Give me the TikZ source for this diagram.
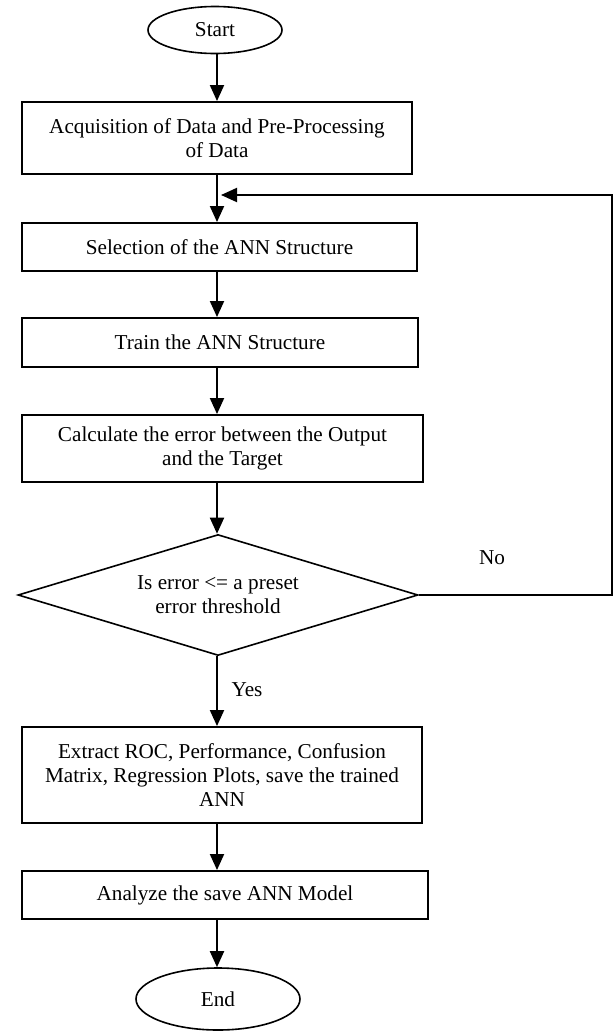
\documentclass[tikz,border=0pt]{standalone}
\usepackage{fontspec}
\setmainfont{Liberation Serif}
\usetikzlibrary{arrows.meta,shapes.geometric}
\begin{document}
\begin{tikzpicture}[x=1pt,y=-1pt,
  every node/.style={font=\fontsize{21.2}{24}\selectfont},
  procbox/.style={draw, rectangle, line width=1.9pt, inner sep=0pt, align=center},
  term/.style={draw, ellipse, line width=1.6pt, inner sep=0pt},
  decbox/.style={draw, diamond, line width=1.6pt, inner sep=0pt, align=center, shape aspect=3.3},
  arr/.style={-{Triangle[length=16pt,width=14pt]}, line width=1.9pt},
  lbl/.style={inner sep=0pt}]
\useasboundingbox (0,0) rectangle (616,1034);
\node[term, minimum width=134pt, minimum height=47pt] (start) at (215,30) {Start};
\node[procbox, minimum width=390pt, minimum height=72pt] (b1) at (217,138) {Acquisition of Data and Pre-Processing\\of Data};
\node[procbox, minimum width=395pt, minimum height=48pt] (b2) at (219.5,247) {Selection of the ANN Structure};
\node[procbox, minimum width=396pt, minimum height=49pt] (b3) at (220,342.5) {Train the ANN Structure};
\node[procbox, minimum width=401pt, minimum height=67pt] (b4) at (222.5,448.5) {Calculate the error between the Output\\and the Target};
\node[decbox, minimum width=400pt, minimum height=121pt] (dec) at (218,595) {Is error <= a preset\\error threshold};
\node[procbox, minimum width=400pt, minimum height=96pt] (b5) at (222,775) {Extract ROC, Performance, Confusion\\Matrix, Regression Plots, save the trained\\ANN};
\node[procbox, minimum width=406pt, minimum height=48pt] (b6) at (225,895) {Analyze the save ANN Model};
\node[term, minimum width=164pt, minimum height=62pt] (end) at (218,999) {End};
\node[lbl] (no) at (492,558) {No};
\node[lbl] (yes) at (247,690) {Yes};
\coordinate (ax) at (217,0);
\coordinate (fbtop) at (612,195);
\coordinate (fbtip) at (221,195);
\draw[arr] (start.south -| ax) -- (b1.north -| ax);
\draw[arr] (b1.south -| ax) -- (b2.north -| ax);
\draw[arr] (b2.south -| ax) -- (b3.north -| ax);
\draw[arr] (b3.south -| ax) -- (b4.north -| ax);
\draw[arr] (b4.south -| ax) -- (dec.north -| ax);
\draw[arr] (dec.south -| ax) -- (b5.north -| ax);
\draw[arr] (b5.south -| ax) -- (b6.north -| ax);
\draw[arr] (b6.south -| ax) -- (end.north -| ax);
\draw[arr] (dec.east) -| (fbtop) -- (fbtip);
\end{tikzpicture}
\end{document}
